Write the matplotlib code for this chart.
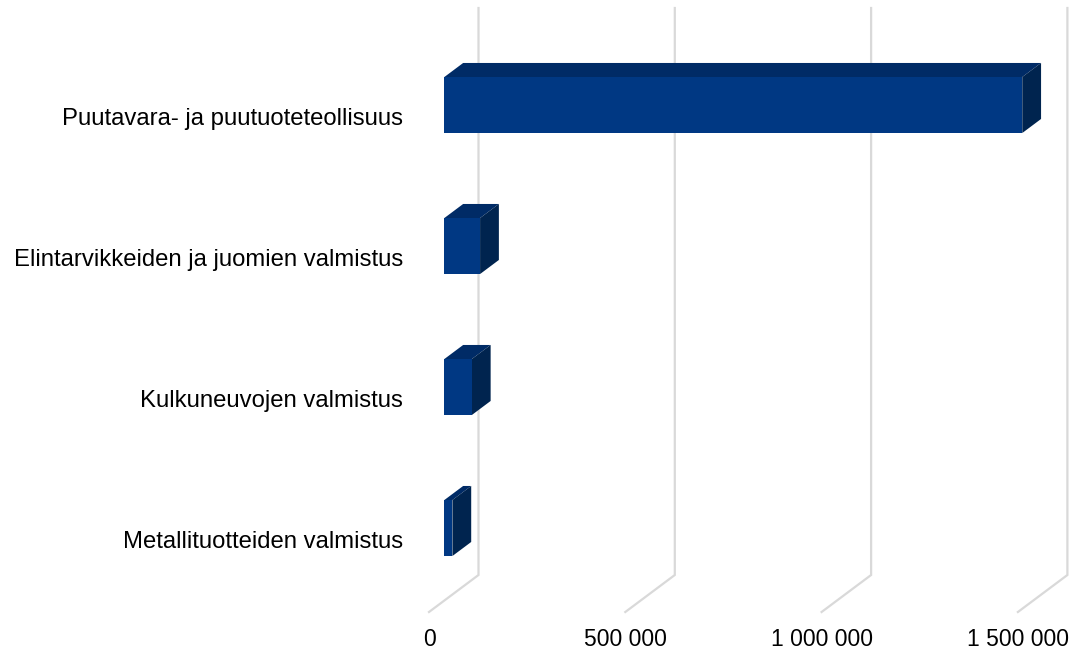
import matplotlib
matplotlib.use("Agg")
import matplotlib.pyplot as plt
from matplotlib.patches import Polygon

categories = ["Puutavara- ja puutuoteteollisuus",
              "Elintarvikkeiden ja juomien valmistus",
              "Kulkuneuvojen valmistus",
              "Metallituotteiden valmistus"]
values = [1472000, 91000, 70000, 20500]
ticks = [0, 500000, 1000000, 1500000]
tick_labels = ["0", "500 000", "1 000 000", "1 500 000"]

plt.rcParams['font.family'] = ['Liberation Sans', 'DejaVu Sans']

fig = plt.figure(figsize=(10.7, 6.52), dpi=100)
ax = fig.add_axes([0, 0, 1, 1])
ax.axis('off')

# pixel-ish mapping: 500000 per 196.3 px, category step 141 px
xpp = 500000 / 196.3
x0px, y0px, step = 429, 116.5, 141.0
ax.set_xlim(-x0px * xpp, (1070 - x0px) * xpp)
ax.set_ylim((652 - y0px) / step, -y0px / step)

# full floor depth offset
dxd = 49.5 * xpp
dyd = -37 / step

front_y = (612 - y0px) / step
top_y = (8 - y0px) / step
grid_c = "#d9d9d9"
for v in ticks:
    ax.plot([v, v + dxd, v + dxd], [front_y, front_y + dyd, top_y],
            color=grid_c, lw=1.6, zorder=1, solid_joinstyle='miter')

for v, lab in zip(ticks, tick_labels):
    ax.text(v, (640 - y0px) / step, lab, ha='center', va='center',
            fontsize=16.5, color='#000000')

h = 28 / step
d0, d1 = 0.31, 0.69
ox0, oy0 = d0 * dxd, d0 * dyd
ox1, oy1 = d1 * dxd, d1 * dyd
c_front, c_top, c_side = "#003883", "#002b66", "#00244f"

for i, (cat, v) in enumerate(zip(categories, values)):
    yt, yb = i - h, i + h
    front = Polygon([(ox0, yt + oy0), (v + ox0, yt + oy0),
                     (v + ox0, yb + oy0), (ox0, yb + oy0)],
                    closed=True, fc=c_front, ec='none', zorder=3)
    top = Polygon([(ox0, yt + oy0), (v + ox0, yt + oy0),
                   (v + ox1, yt + oy1), (ox1, yt + oy1)],
                  closed=True, fc=c_top, ec='none', zorder=3)
    side = Polygon([(v + ox0, yt + oy0), (v + ox0, yb + oy0),
                    (v + ox1, yb + oy1), (v + ox1, yt + oy1)],
                   closed=True, fc=c_side, ec='none', zorder=3)
    for p in (top, side, front):
        ax.add_patch(p)
    ax.text((403 - x0px) * xpp, i + 0.02, cat, ha='right', va='center',
            fontsize=17.2, color='#000000')

fig.savefig("out.png", dpi=100)
